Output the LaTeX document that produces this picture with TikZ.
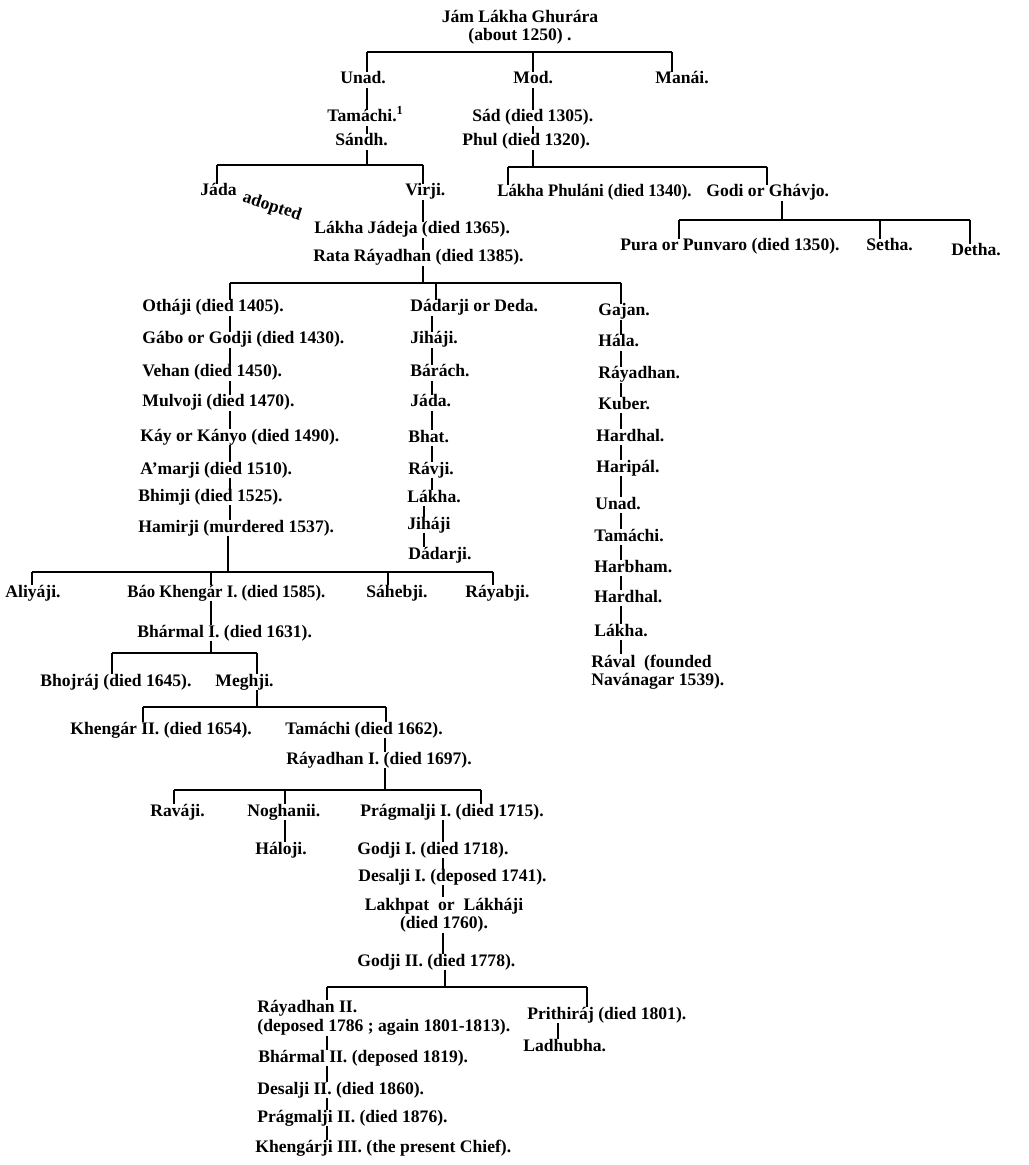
\documentclass[tikz,border=0pt]{standalone}
\usepackage{fontspec}
\setmainfont{Liberation Serif}
\tikzset{
  txt/.style={inner sep=0pt, font=\bfseries\fontsize{8.8}{9.2}\selectfont},
  person/.style={txt, anchor=west, text height=6pt, text depth=2pt},
  bar/.style={line width=0.9pt},
  tick/.style={line width=0.6pt},
  stem/.style={line width=1.4pt},
}
\begin{document}
\begin{tikzpicture}[x=0.5pt,y=-0.5pt]
	\useasboundingbox (0,0) rectangle (1028,1165);
	% first generations
	\node[txt, align=center] (jam) at (520,27) {Jám Lákha Ghurára\\(about 1250) .};
	\node[person] (unad) at (340,80) {Unad.};
	\node[person] (mod) at (513,80) {Mod.};
	\node[person] (manai) at (655,80) {Manái.};
	\node[person] (tamachi) at (327,118) {Tamáchi.\textsuperscript{1}};
	\node[person] (sad) at (472,118) {Sád (died 1305).};
	\node[person] (sandh) at (335,142) {Sándh.};
	\node[person] (phul) at (462,142) {Phul (died 1320).};
	\node[person] (jada) at (200,192) {Jáda};
	\node[person] (virji) at (405,192) {Virji.};
	\node[person, xscale=0.95] (phulani) at (497,193) {Lákha Phuláni (died 1340).};
	\node[person] (godi) at (706,193) {Godi or Ghávjo.};
	\node[txt, rotate=-18] (adopted) at (272,207) {adopted};
	\node[person] (jadeja) at (314,230) {Lákha Jádeja (died 1365).};
	\node[person] (pura) at (620,247) {Pura or Punvaro (died 1350).};
	\node[person] (setha) at (866,247) {Setha.};
	\node[person] (detha) at (951,252) {Detha.};
	\node[person] (rata) at (313,258) {Rata Ráyadhan (died 1385).};
	% sons of Rata
	\node[person] (othaji) at (142,308) {Otháji (died 1405).};
	\node[person] (gabo) at (142,340) {Gábo or Godji (died 1430).};
	\node[person] (vehan) at (142,373) {Vehan (died 1450).};
	\node[person] (mulvoji) at (142,403) {Mulvoji (died 1470).};
	\node[person] (kay) at (140,437) {Káy or Kányo (died 1490).};
	\node[person] (amarji) at (140,470) {A'marji (died 1510).};
	\node[person] (bhimji) at (138,497) {Bhimji (died 1525).};
	\node[person] (hamirji) at (138,528) {Hamirji (murdered 1537).};
	\node[person] (dadarji) at (410,308) {Dádarji or Deda.};
	\node[person] (jihaji) at (410,340) {Jiháji.};
	\node[person] (barach) at (410,373) {Bárách.};
	\node[person] (jadab) at (410,403) {Jáda.};
	\node[person] (bhat) at (408,438) {Bhat.};
	\node[person] (ravji) at (408,470) {Rávji.};
	\node[person] (lakha) at (407,498) {Lákha.};
	\node[person] (jihajib) at (407,525) {Jiháji};
	\node[person] (dadarjib) at (408,555) {Dádarji.};
	\node[person] (gajan) at (598,312) {Gajan.};
	\node[person] (hala) at (598,343) {Hála.};
	\node[person] (rayadhan) at (598,375) {Ráyadhan.};
	\node[person] (kuber) at (598,405) {Kuber.};
	\node[person] (hardhal) at (596,437) {Hardhal.};
	\node[person] (haripal) at (596,468) {Haripál.};
	\node[person] (unadb) at (595,505) {Unad.};
	\node[person] (tamachib) at (594,537) {Tamáchi.};
	\node[person] (harbham) at (594,568) {Harbham.};
	\node[person] (hardhalb) at (594,598) {Hardhal.};
	\node[person] (lakhab) at (594,632) {Lákha.};
	\node[txt, anchor=west, align=left] (raval) at (591,672) {Rával\ \ (founded\\Navánagar 1539).};
	% sons of Hamirji
	\node[person] (aliyaji) at (5,593) {Aliyáji.};
	\node[person, xscale=0.95] (bao) at (127,593) {Báo Khengár I. (died 1585).};
	\node[person] (sahebji) at (366,593) {Sáhebji.};
	\node[person] (rayabji) at (465,593) {Ráyabji.};
	\node[person] (bharmal) at (137,633) {Bhármal I. (died 1631).};
	\node[person] (bhojraj) at (40,682) {Bhojráj (died 1645).};
	\node[person] (meghji) at (215,682) {Meghji.};
	\node[person] (khengar) at (70,730) {Khengár II. (died 1654).};
	\node[person] (tamachic) at (285,730) {Tamáchi (died 1662).};
	\node[person] (rayadhani) at (286,760) {Ráyadhan I. (died 1697).};
	\node[person] (ravaji) at (150,812) {Raváji.};
	\node[person] (noghanii) at (247,812) {Noghanii.};
	\node[person] (pragmalji) at (360,812) {Prágmalji I. (died 1715).};
	\node[person] (haloji) at (255,850) {Háloji.};
	\node[person] (godji) at (357,850) {Godji I. (died 1718).};
	\node[person] (desalji) at (358,877) {Desalji I. (deposed 1741).};
	\node[txt, align=center] (lakhpat) at (444,915) {Lakhpat\ \ or\ \ Lákháji\\(died 1760).};
	\node[person] (godjib) at (357,962) {Godji II. (died 1778).};
	\node[txt, anchor=west, align=left] (rayadhanb) at (257,1018) {Ráyadhan II.\\(deposed 1786 ; again 1801-1813).};
	\node[person] (prithiraj) at (527,1015) {Prithiráj (died 1801).};
	\node[person] (ladhubha) at (523,1047) {Ladhubha.};
	\node[person] (bharmalb) at (258,1058) {Bhármal II. (deposed 1819).};
	\node[person] (desaljib) at (257,1090) {Desalji II. (died 1860).};
	\node[person] (pragmaljib) at (257,1118) {Prágmalji II. (died 1876).};
	\node[person] (khengarji) at (255,1148) {Khengárji III. (the present Chief).};
	% junctions
	\coordinate (j-unad) at (367,52);
	\coordinate (j-mod) at (533,52);
	\coordinate (j-manai) at (672,52);
	\coordinate (j-sandh) at (367,165);
	\coordinate (j-jada) at (217,165);
	\coordinate (j-virji) at (423,165);
	\coordinate (j-phul) at (533,167);
	\coordinate (j-phulani) at (508,167);
	\coordinate (j-godi) at (767,167);
	\coordinate (j-godib) at (782,220);
	\coordinate (j-pura) at (679,220);
	\coordinate (j-setha) at (880,220);
	\coordinate (j-detha) at (970,220);
	\coordinate (j-rata) at (423,283);
	\coordinate (j-othaji) at (230,283);
	\coordinate (j-dadarji) at (436,283);
	\coordinate (j-gajan) at (621,283);
	\coordinate (c-dadarji) at (432,0);
	\coordinate (c-lakha) at (424,0);
	\coordinate (j-hamirji) at (228,572);
	\coordinate (j-aliyaji) at (32,572);
	\coordinate (j-bao) at (211,572);
	\coordinate (j-sahebji) at (388,572);
	\coordinate (j-rayabji) at (493,572);
	\coordinate (j-bharmal) at (211,653);
	\coordinate (j-bhojraj) at (112,653);
	\coordinate (j-meghji) at (257,653);
	\coordinate (j-meghjib) at (257,707);
	\coordinate (j-khengar) at (143,707);
	\coordinate (j-tamachic) at (386,707);
	\coordinate (j-rayadhani) at (385,790);
	\coordinate (j-ravaji) at (174,790);
	\coordinate (j-noghanii) at (285,790);
	\coordinate (j-pragmalji) at (481,790);
	\coordinate (c-godji) at (443,0);
	\coordinate (j-godjib) at (445,987);
	\coordinate (j-rayadhanb) at (327,987);
	\coordinate (j-prithiraj) at (587,987);
	\coordinate (c-ladhubha) at (558,0);
	% bars
	\draw[bar] (j-unad) -- (j-manai);
	\draw[bar] (j-jada) -- (j-virji);
	\draw[bar] (j-phulani) -- (j-godi);
	\draw[bar] (j-pura) -- (j-detha);
	\draw[bar] (j-othaji) -- (j-gajan);
	\draw[bar] (j-aliyaji) -- (j-rayabji);
	\draw[bar] (j-bhojraj) -- (j-meghji);
	\draw[bar] (j-khengar) -- (j-tamachic);
	\draw[bar] (j-ravaji) -- (j-pragmalji);
	\draw[bar] (j-rayadhanb) -- (j-prithiraj);
	% ticks down from the bars
	\draw[tick] (j-unad) -- (j-unad |- unad.north);
	\draw[tick] (j-mod) -- (j-mod |- mod.north);
	\draw[tick] (j-manai) -- (j-manai |- manai.north);
	\draw[tick] (j-jada) -- (j-jada |- jada.north);
	\draw[tick] (j-virji) -- (j-virji |- virji.north);
	\draw[tick] (j-phulani) -- (j-phulani |- phulani.north);
	\draw[tick] (j-godi) -- (j-godi |- godi.north);
	\draw[tick] (j-pura) -- (j-pura |- pura.north);
	\draw[tick] (j-setha) -- (j-setha |- setha.north);
	\draw[tick] (j-detha) -- (j-detha |- detha.north);
	\draw[tick] (j-othaji) -- (j-othaji |- othaji.north);
	\draw[tick] (j-dadarji) -- (j-dadarji |- dadarji.north);
	\draw[tick] (j-gajan) -- (j-gajan |- gajan.north);
	\draw[tick] (j-aliyaji) -- (j-aliyaji |- aliyaji.north);
	\draw[tick] (j-bao) -- (j-bao |- bao.north);
	\draw[tick] (j-sahebji) -- (j-sahebji |- sahebji.north);
	\draw[tick] (j-rayabji) -- (j-rayabji |- rayabji.north);
	\draw[tick] (j-bhojraj) -- (j-bhojraj |- bhojraj.north);
	\draw[tick] (j-meghji) -- (j-meghji |- meghji.north);
	\draw[tick] (j-khengar) -- (j-khengar |- khengar.north);
	\draw[tick] (j-tamachic) -- (j-tamachic |- tamachic.north);
	\draw[tick] (j-ravaji) -- (j-ravaji |- ravaji.north);
	\draw[tick] (j-noghanii) -- (j-noghanii |- noghanii.north);
	\draw[tick] (j-pragmalji) -- (j-pragmalji |- pragmalji.north);
	\draw[tick] (j-rayadhanb) -- (j-rayadhanb |- rayadhanb.north);
	\draw[tick] (j-prithiraj) -- (j-prithiraj |- prithiraj.north);
	% ticks up to the bars
	\draw[tick] (sandh.south -| j-sandh) -- (j-sandh);
	\draw[tick] (phul.south -| j-phul) -- (j-phul);
	\draw[tick] (godi.south -| j-godib) -- (j-godib);
	\draw[tick] (rata.south -| j-rata) -- (j-rata);
	\draw[stem] (hamirji.south -| j-hamirji) -- (j-hamirji);
	\draw[tick] (bharmal.south -| j-bharmal) -- (j-bharmal);
	\draw[tick] (meghji.south -| j-meghjib) -- (j-meghjib);
	\draw[tick] (rayadhani.south -| j-rayadhani) -- (j-rayadhani);
	\draw[tick] (godjib.south -| j-godjib) -- (j-godjib);
	% single lines of descent
	\draw[tick] (unad.south -| j-unad) -- (tamachi.north -| j-unad);
	\draw[tick] (tamachi.south -| j-unad) -- (sandh.north -| j-unad);
	\draw[tick] (mod.south -| j-mod) -- (sad.north -| j-mod);
	\draw[tick] (sad.south -| j-mod) -- (phul.north -| j-mod);
	\draw[tick] (virji.south -| j-virji) -- (jadeja.north -| j-virji);
	\draw[tick] (jadeja.south -| j-virji) -- (rata.north -| j-virji);
	\draw[tick] (othaji.south -| j-othaji) -- (gabo.north -| j-othaji);
	\draw[tick] (gabo.south -| j-othaji) -- (vehan.north -| j-othaji);
	\draw[tick] (vehan.south -| j-othaji) -- (mulvoji.north -| j-othaji);
	\draw[tick] (mulvoji.south -| j-othaji) -- (kay.north -| j-othaji);
	\draw[tick] (kay.south -| j-othaji) -- (amarji.north -| j-othaji);
	\draw[tick] (amarji.south -| j-othaji) -- (bhimji.north -| j-othaji);
	\draw[tick] (bhimji.south -| j-othaji) -- (hamirji.north -| j-othaji);
	\draw[tick] (dadarji.south -| c-dadarji) -- (jihaji.north -| c-dadarji);
	\draw[tick] (jihaji.south -| c-dadarji) -- (barach.north -| c-dadarji);
	\draw[tick] (barach.south -| c-dadarji) -- (jadab.north -| c-dadarji);
	\draw[tick] (jadab.south -| c-dadarji) -- (bhat.north -| c-dadarji);
	\draw[tick] (bhat.south -| c-dadarji) -- (ravji.north -| c-dadarji);
	\draw[tick] (ravji.south -| c-dadarji) -- (lakha.north -| c-dadarji);
	\draw[tick] (lakha.south -| c-lakha) -- (jihajib.north -| c-lakha);
	\draw[tick] (jihajib.south -| c-lakha) -- (dadarjib.north -| c-lakha);
	\draw[tick] (gajan.south -| j-gajan) -- (hala.north -| j-gajan);
	\draw[tick] (hala.south -| j-gajan) -- (rayadhan.north -| j-gajan);
	\draw[tick] (rayadhan.south -| j-gajan) -- (kuber.north -| j-gajan);
	\draw[tick] (kuber.south -| j-gajan) -- (hardhal.north -| j-gajan);
	\draw[tick] (hardhal.south -| j-gajan) -- (haripal.north -| j-gajan);
	\draw[tick] (haripal.south -| j-gajan) -- (unadb.north -| j-gajan);
	\draw[tick] (unadb.south -| j-gajan) -- (tamachib.north -| j-gajan);
	\draw[tick] (tamachib.south -| j-gajan) -- (harbham.north -| j-gajan);
	\draw[tick] (harbham.south -| j-gajan) -- (hardhalb.north -| j-gajan);
	\draw[tick] (hardhalb.south -| j-gajan) -- (lakhab.north -| j-gajan);
	\draw[tick] (lakhab.south -| j-gajan) -- (raval.north -| j-gajan);
	\draw[tick] (bao.south -| j-bao) -- (bharmal.north -| j-bao);
	\draw[tick] (tamachic.south -| j-rayadhani) -- (rayadhani.north -| j-rayadhani);
	\draw[tick] (noghanii.south -| j-noghanii) -- (haloji.north -| j-noghanii);
	\draw[tick] (pragmalji.south -| c-godji) -- (godji.north -| c-godji);
	\draw[tick] (godji.south -| c-godji) -- (desalji.north -| c-godji);
	\draw[tick] (desalji.south -| c-godji) -- (lakhpat.north -| c-godji);
	\draw[tick] (lakhpat.south -| c-godji) -- (godjib.north -| c-godji);
	\draw[tick] (prithiraj.south -| c-ladhubha) -- (ladhubha.north -| c-ladhubha);
	\draw[tick] (rayadhanb.south -| j-rayadhanb) -- (bharmalb.north -| j-rayadhanb);
	\draw[tick] (bharmalb.south -| j-rayadhanb) -- (desaljib.north -| j-rayadhanb);
	\draw[tick] (desaljib.south -| j-rayadhanb) -- (pragmaljib.north -| j-rayadhanb);
	\draw[tick] (pragmaljib.south -| j-rayadhanb) -- (khengarji.north -| j-rayadhanb);
\end{tikzpicture}
\end{document}
